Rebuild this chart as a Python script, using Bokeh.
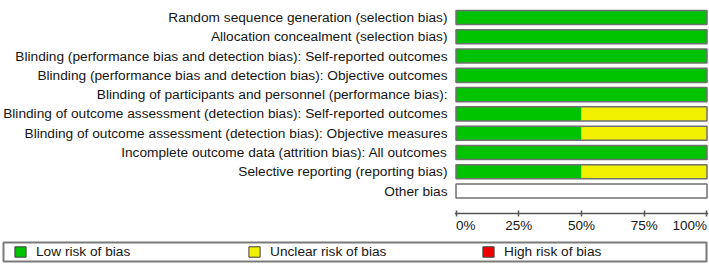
from bokeh.plotting import figure
from bokeh.models import Range1d, FixedTicker, Label, Legend, LegendItem, ColumnDataSource, LinearAxis
from bokeh.layouts import column
from bokeh.embed import file_html
from bokeh.resources import INLINE

# Risk-of-bias domains, listed top to bottom
domains = [
    "Random sequence generation (selection bias)",
    "Allocation concealment (selection bias)",
    "Blinding (performance bias and detection bias): Self-reported outcomes",
    "Blinding (performance bias and detection bias): Objective outcomes",
    "Blinding of participants and personnel (performance bias):",
    "Blinding of outcome assessment (detection bias): Self-reported outcomes",
    "Blinding of outcome assessment (detection bias): Objective measures",
    "Incomplete outcome data (attrition bias): All outcomes",
    "Selective reporting (reporting bias)",
    "Other bias",
]
# Percentage of studies per judgement
low_risk = [100, 100, 100, 100, 100, 50, 50, 100, 50, 0]
unclear_risk = [0, 0, 0, 0, 0, 50, 50, 0, 50, 0]
high_risk = [0, 0, 0, 0, 0, 0, 0, 0, 0, 0]

legend_labels = ["Low risk of bias", "Unclear risk of bias", "High risk of bias"]
tick_values = [0, 25, 50, 75, 100]
tick_labels = ["0%", "25%", "50%", "75%", "100%"]
scale_max = 100

FONT = "Liberation Sans"
TEXT = "#151515"
GREEN = "#00c300"
YELLOW = "#f0f000"
RED = "#ee0000"
EDGE = "#707070"

n = len(domains)
ys = [n - 1 - i for i in range(n)]
uc_right = [a + b for a, b in zip(low_risk, unclear_risk)]
hi_right = [a + b for a, b in zip(uc_right, high_risk)]

src = ColumnDataSource(dict(
    y=ys,
    zero=[0] * n,
    low=low_risk,
    uc_right=uc_right,
    hi_right=hi_right,
    full=[scale_max] * n,
))

# vertical scale: one row = 19.28 px; frame runs from 7 px to the bottom edge
row_px = 19.28
frame_px = 229
y_top = n - 1 + 0.519
y_bottom = y_top - frame_px / row_px
y_axis_at = -(22.5 / row_px)            # percentage axis just under the last row
y_ticklab = y_axis_at - 11.5 / row_px   # its tick labels
x_pad = 0.6

p = figure(
    width=709, height=236,
    x_range=Range1d(-x_pad, scale_max + x_pad),
    y_range=Range1d(y_bottom, y_top),
    x_axis_location=None,
    output_backend="svg", toolbar_location=None,
    min_border_left=453, min_border_right=1,
    min_border_top=7, min_border_bottom=0,
)
p.outline_line_color = None
p.grid.visible = False
p.background_fill_color = "white"
p.border_fill_color = "white"
p.frame_align = False

bar_h = 0.73
p.hbar(y="y", left="zero", right="full", height=bar_h, source=src,
       fill_color="white", line_color=None)
p.hbar(y="y", left="zero", right="low", height=bar_h, source=src,
       fill_color=GREEN, line_color=None)
p.hbar(y="y", left="low", right="uc_right", height=bar_h, source=src,
       fill_color=YELLOW, line_color=None)
p.hbar(y="y", left="uc_right", right="hi_right", height=bar_h, source=src,
       fill_color=RED, line_color=None)
p.hbar(y="y", left="zero", right="full", height=bar_h, source=src,
       fill_color=None, line_color=EDGE, line_width=1.5)

# Domain names on the left axis
yax = p.yaxis[0]
yax.ticker = FixedTicker(ticks=ys)
yax.major_label_overrides = {y: d for y, d in zip(ys, domains)}
yax.axis_line_color = None
yax.major_tick_line_color = None
yax.minor_tick_line_color = None
yax.major_tick_in = 0
yax.major_tick_out = 0
yax.major_label_standoff = 7
yax.major_label_text_font = FONT
yax.major_label_text_font_size = "13.7px"
yax.major_label_text_color = TEXT

# Percentage axis: ticks only; labels are placed so the end labels stay inside
xax = LinearAxis(fixed_location=y_axis_at, ticker=FixedTicker(ticks=tick_values))
xax.axis_line_color = "#555555"
xax.axis_line_width = 1.5
xax.major_tick_line_color = "#555555"
xax.major_tick_line_width = 1.5
xax.major_tick_in = 3
xax.major_tick_out = 3
xax.minor_tick_line_color = None
xax.major_label_text_color = None
p.add_layout(xax, "below")

for i, (v, t) in enumerate(zip(tick_values, tick_labels)):
    align = "left" if i == 0 else ("right" if i == len(tick_values) - 1 else "center")
    p.add_layout(Label(x=v, y=y_ticklab, text=t, text_align=align, text_baseline="middle",
                       text_font=FONT, text_font_size="13.5px", text_color=TEXT))

# Legend strip below the chart
leg = figure(
    width=709, height=29,
    x_range=Range1d(0, 1), y_range=Range1d(0, 1),
    output_backend="svg", toolbar_location=None,
    min_border_left=3, min_border_right=3, min_border_top=6, min_border_bottom=4,
)
leg.frame_align = False
leg.axis.visible = False
leg.grid.visible = False
leg.outline_line_color = "#7a7a7a"
leg.outline_line_width = 2
leg.background_fill_color = "white"
leg.border_fill_color = "white"

# swatch renderers sit outside the visible range; only their legend glyphs show
items = []
for label, color in zip(legend_labels, [GREEN, YELLOW, RED]):
    r = leg.rect(x=[-5], y=[-5], width=0.1, height=0.1, fill_color=color,
                 line_color="#404040", line_width=1)
    items.append(LegendItem(label=label, renderers=[r]))

legend = Legend(
    items=items, orientation="horizontal", location=(10, 2),
    glyph_width=14, glyph_height=13, label_standoff=9, label_width=200,
    spacing=11, padding=0, margin=0,
    border_line_color=None, background_fill_alpha=0,
    label_text_font=FONT, label_text_font_size="13.7px", label_text_color=TEXT,
)
leg.add_layout(legend)

layout = column(p, leg, spacing=0)
open("out.html", "w").write(file_html(layout, INLINE))
